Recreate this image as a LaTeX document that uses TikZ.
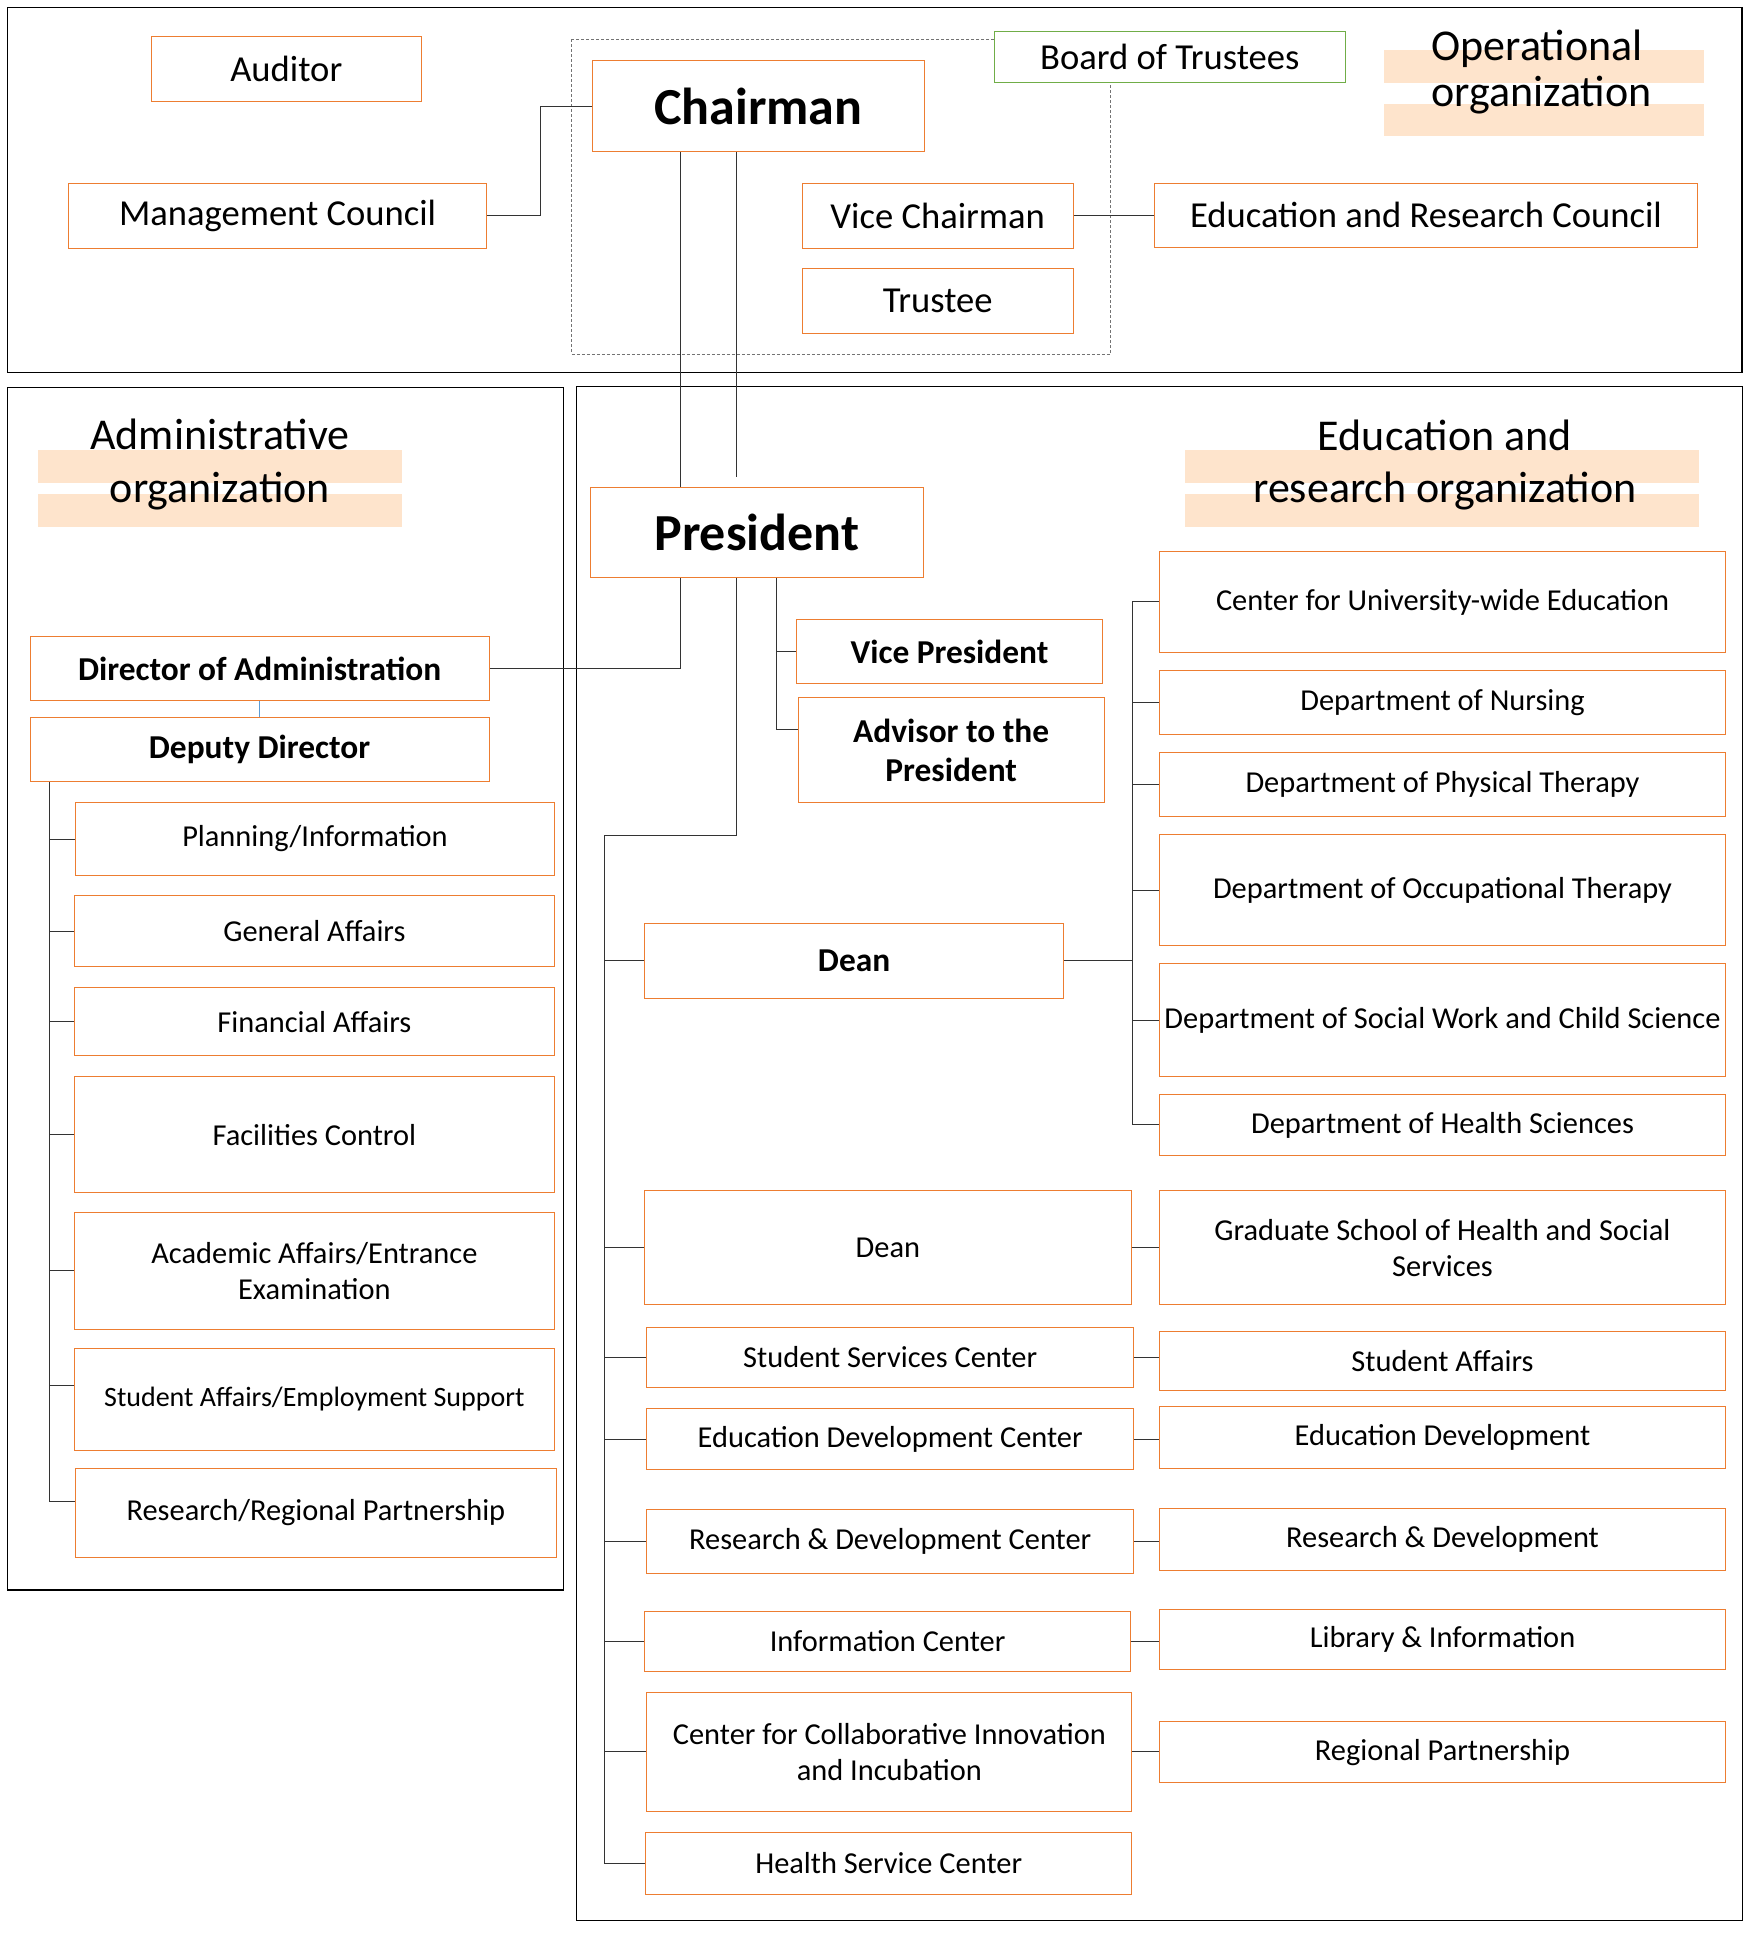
\documentclass[tikz,border=0pt]{standalone}
\usepackage{fontspec}
\setmainfont{Carlito}
\definecolor{orgorange}{HTML}{ED7D31}
\definecolor{orggreen}{HTML}{70AD47}
\definecolor{orgpeach}{HTML}{FEE4CC}
\definecolor{orgblue}{HTML}{5B9BD5}

\begin{document}
\begin{tikzpicture}[
  x=0.5pt, y=-0.5pt,
  every node/.style={font=\fontsize{15.2}{18}\selectfont},
  box/.style 2 args={rectangle, draw=orgorange, fill=white, line width=0.5pt, minimum width=#1*0.5pt, minimum height=#2*0.5pt, inner sep=0pt, align=center},
  big/.style={font=\fontsize{18.3}{22}\selectfont},
  head/.style={font=\bfseries\fontsize{26}{30}\selectfont},
  chief/.style={font=\bfseries\fontsize{16.7}{19.5}\selectfont},
  title/.style={font=\fontsize{22}{26}\selectfont, anchor=base, inner sep=0pt},
  band/.style={fill=orgpeach},
  frame/.style={draw=black, line width=0.7pt},
  link/.style={draw=black!80, line width=0.5pt},
]
\fill[white] (0,0) rectangle (1759,1935);
\useasboundingbox (0,0) rectangle (1759,1935);

% frames
\draw[frame] (7.5,7.3) rectangle (1742,372.3);
\draw[frame] (7.3,387.3) rectangle (563.3,1590);
\draw[frame] (576.3,386.3) rectangle (1742.4,1920.3);
\draw[black!55, line width=0.4pt, dash pattern=on 1.5pt off 1pt] (571.8,39.3) rectangle (1110.4,354.3);

% title bands
\fill[band] (1384,50) rectangle (1704,82.7);
\fill[band] (1384,104) rectangle (1704,135.7);
\fill[band] (38.1,450) rectangle (402,482.7);
\fill[band] (38.1,494) rectangle (402,526.7);
\fill[band] (1185.3,449.9) rectangle (1698.8,482.6);
\fill[band] (1185.3,493.8) rectangle (1698.8,527);

\node[title, anchor=base west] (opA) at (1431,60) {Operational};
\node[title, anchor=base west] (opB) at (1431,106.7) {organization};
\node[title] (admA) at (220,449) {Administrative};
\node[title] (admB) at (220,502.3) {organization};
\node[title] (eduA) at (1445,450) {Education and};
\node[title] (eduB) at (1445,502.4) {research organization};

% operational organization
\node[box={269.5}{65}, big] (aud) at (286.3,68.8) {Auditor};
\node[box={332.3}{91}, head] (chair) at (758.2,106.2) {Chairman};
\node[box={350.9}{50.6}, big, draw=orggreen] (board) at (1169.8,57) {Board of Trustees};
\node[box={418.5}{65}, big] (mgmt) at (277.6,215.8) {Management Council};
\node[box={271.4}{65}, big] (vchair) at (937.7,215.8) {Vice Chairman};
\node[box={271.4}{65}, big] (trustee) at (937.7,300.8) {Trustee};
\node[box={542.6}{64}, big] (erc) at (1426,215.3) {Education and Research Council};

% administrative organization
\node[box={459.2}{64}, chief] (dir) at (259.6,668.7) {Director of Administration};
\node[box={459.2}{64.4}, chief] (dep) at (259.6,749.5) {Deputy Director};
\node[box={479.1}{72.5}] (plan) at (315,839) {Planning/Information};
\node[box={480.3}{71.5}] (gen) at (314.4,931.2) {General Affairs};
\node[box={480.3}{68.3}] (fin) at (314.4,1021.7) {Financial Affairs};
\node[box={480.3}{116.4}] (fac) at (314.4,1134.7) {Facilities Control};
\node[box={480.3}{116.5}] (acad) at (314.4,1270.8) {Academic Affairs/Entrance\\Examination};
\node[box={480.3}{101.6}, font=\fontsize{14}{17}\selectfont] (stud) at (314.4,1399.4) {Student Affairs/Employment Support};
\node[box={481}{88.4}] (resreg) at (315.9,1512.9) {Research/Regional Partnership};

% education and research organization
\node[box={333.5}{90}, head] (pres) at (756.8,532.3) {President};
\node[box={306}{64.2}, chief] (vp) at (949.5,651.4) {Vice President};
\node[box={306.3}{105}, chief] (adv) at (951.2,749.9) {Advisor to the\\President};
\node[box={418.8}{75}, chief] (dean) at (854.1,960.9) {Dean};
\node[box={566.9}{101}] (cue) at (1442.5,601.9) {Center for University-wide Education};
\node[box={566.9}{64.3}] (nurs) at (1442.5,702.5) {Department of Nursing};
\node[box={566.9}{64.3}] (phys) at (1442.5,784.6) {Department of Physical Therapy};
\node[box={566.9}{110.7}] (occ) at (1442.5,890) {Department of Occupational Therapy};
\node[box={566.9}{112.7}] (sw) at (1442.5,1020) {Department of Social Work and Child Science};
\node[box={566.9}{61.2}] (hs) at (1442.5,1124.9) {Department of Health Sciences};
\node[box={486.4}{114.2}] (dean2) at (887.9,1247.7) {Dean};
\node[box={566.9}{114.2}] (grad) at (1442.5,1247.7) {Graduate School of Health and Social\\Services};
\node[box={486.5}{59.8}] (ssc) at (890.2,1357.5) {Student Services Center};
\node[box={566.9}{59.3}] (sa) at (1442.5,1361.2) {Student Affairs};
\node[box={486.5}{61.3}] (edc) at (890.2,1439.3) {Education Development Center};
\node[box={566.9}{61.3}] (ed) at (1442.5,1437.4) {Education Development};
\node[box={486.5}{63.8}] (rdc) at (890.2,1541.4) {Research \& Development Center};
\node[box={566.9}{61.8}] (rd) at (1442.5,1539.4) {Research \& Development};
\node[box={485.7}{59.8}] (ic) at (887.6,1641.2) {Information Center};
\node[box={566.9}{59.9}] (li) at (1442.5,1639.3) {Library \& Information};
\node[box={485}{118.6}] (cci) at (889.4,1751.7) {Center for Collaborative Innovation\\and Incubation};
\node[box={566.9}{61.3}] (rp) at (1442.5,1752.2) {Regional Partnership};
\node[box={486.5}{61.3}] (hsc) at (888.7,1863.5) {Health Service Center};

% spines
\coordinate (mgx) at (540.8,0);
\coordinate (cA) at (680,0);
\coordinate (cB) at (736.4,0);
\coordinate (cBend) at (736.4,476.7);
\coordinate (eturn) at (736.4,835.6);
\coordinate (pv) at (776,0);
\coordinate (lspine) at (49.4,0);
\coordinate (espine) at (604,0);
\coordinate (rspine) at (1132.6,0);

\draw[link] (mgmt.east) -| (mgx |- chair.west) -- (chair.west);
\draw[link] (vchair.east) -- (vchair.east -| erc.west);
\draw[link] (chair.south -| cA) -- (pres.north -| cA);
\draw[link] (chair.south -| cB) -- (cBend);
\draw[link] (pres.south -| cA) |- (dir.east);
\draw[link, orgblue] (dir.south) -- (dep.north);
\draw[link] (dep.south -| lspine) |- ([yshift=5.5pt]resreg.west);
\draw[link] (dep.south -| lspine) |- ([yshift=7pt]stud.west);
\foreach \n in {plan,gen,fin,fac,acad}
  \draw[link] (lspine |- \n.west) -- (\n.west);
\draw[link] (pres.south -| pv) |- ([yshift=10pt]adv.west);
\draw[link] (pv |- vp.west) -- (vp.west);
\draw[link] (pres.south -| eturn) |- (espine |- eturn) -- (espine |- hsc.west) -- (hsc.west);
\foreach \n in {dean,dean2,ssc,edc,rdc,ic,cci}
  \draw[link] (espine |- \n.west) -- (\n.west);
\draw[link] (cue.west) -| (rspine |- hs.west) -- (hs.west);
\foreach \n in {nurs,phys,occ,sw}
  \draw[link] (rspine |- \n.west) -- (\n.west);
\draw[link] (dean.east) -- (dean.east -| rspine);
\foreach \a/\b in {dean2/grad,ssc/sa,edc/ed,rdc/rd,ic/li,cci/rp}
  \draw[link] (\a.east) -- (\a.east -| \b.west);
\end{tikzpicture}
\end{document}
